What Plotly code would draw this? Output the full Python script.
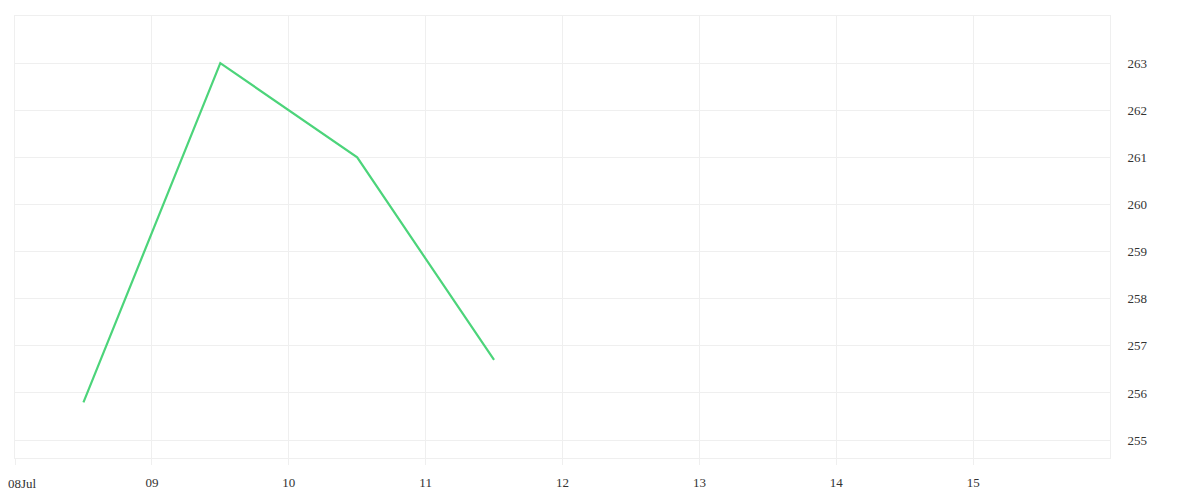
import plotly.graph_objects as go

# daily values, plotted at midday
dates = ["2024-07-08 12:00", "2024-07-09 12:00", "2024-07-10 12:00", "2024-07-11 12:00"]
values = [255.8, 263.0, 261.0, 256.7]

tick_dates = ["2024-07-08", "2024-07-09", "2024-07-10", "2024-07-11",
              "2024-07-12", "2024-07-13", "2024-07-14", "2024-07-15"]
tick_labels = ["08Jul", "09", "10", "11", "12", "13", "14", "15"]
y_ticks = [255, 256, 257, 258, 259, 260, 261, 262, 263]

grid = "#efefef"

fig = go.Figure()
fig.add_trace(go.Scatter(x=dates, y=values, mode="lines",
                         line=dict(color="#4cd47a", width=2.2),
                         showlegend=False, hoverinfo="x+y"))

# first label would be clipped at the left edge, so draw it as an annotation
fig.add_annotation(x=tick_dates[0], xref="x", y=0, yref="paper",
                   text=tick_labels[0], showarrow=False,
                   xanchor="left", yanchor="middle", xshift=-9, yshift=-25)

fig.update_layout(
    width=1200, height=500,
    margin=dict(l=7, r=98, t=8, b=50),
    paper_bgcolor="white", plot_bgcolor="white",
    font=dict(family="Liberation Serif", size=13, color="#333333"),
    xaxis=dict(type="date", range=["2024-07-08", "2024-07-16"],
               tickvals=tick_dates, ticktext=[""] + tick_labels[1:],
               showgrid=True, gridcolor=grid, gridwidth=1,
               ticks="outside", ticklen=6, tickcolor=grid,
               showline=True, linecolor=grid, mirror=True,
               zeroline=False, automargin=False, ticklabelstandoff=6),
    yaxis=dict(side="right", range=[254.62, 264.0],
               tickvals=y_ticks,
               showgrid=True, gridcolor=grid, gridwidth=1,
               ticks="", showline=True, linecolor=grid, mirror=True,
               zeroline=False, automargin=False, ticklabelstandoff=14),
)

fig.write_html("out.html")
